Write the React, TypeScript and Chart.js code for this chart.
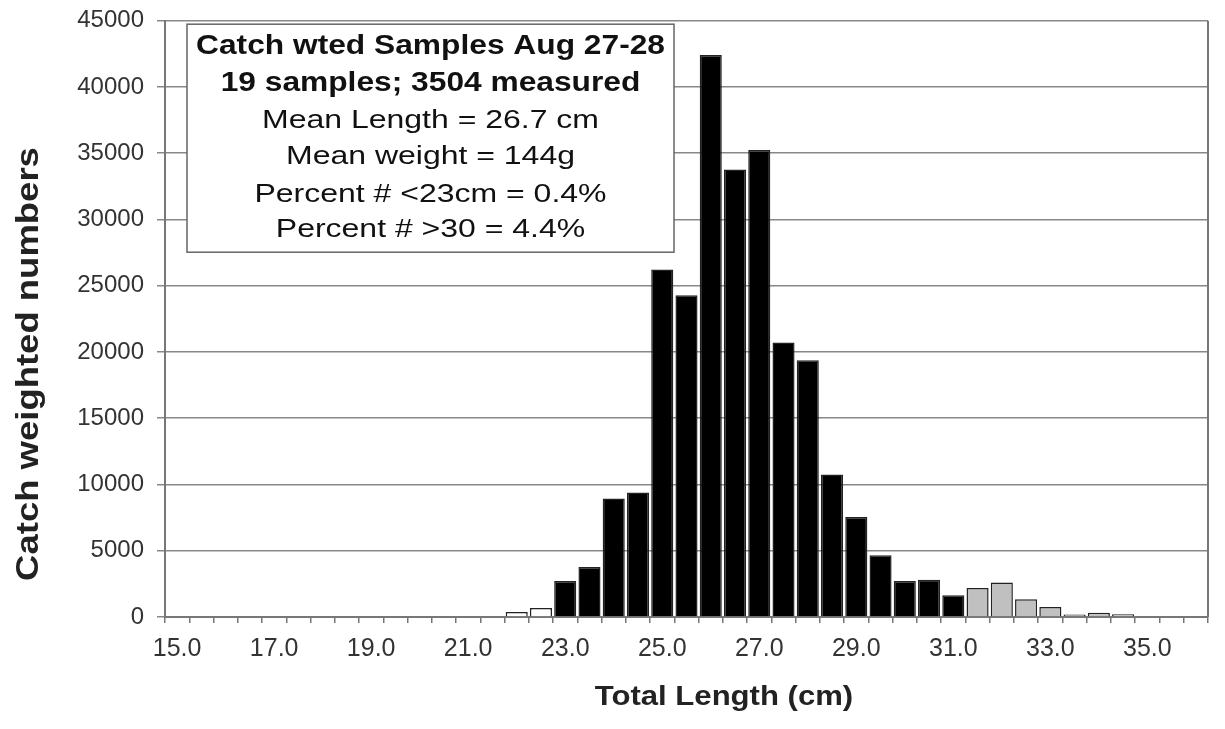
import React, { useEffect, useRef } from 'react';
import { Chart, registerables } from 'chart.js';

Chart.register(...registerables);

const lengthLabels = [
  '15.0', '15.5', '16.0', '16.5', '17.0', '17.5', '18.0', '18.5', '19.0', '19.5',
  '20.0', '20.5', '21.0', '21.5', '22.0', '22.5', '23.0', '23.5', '24.0', '24.5',
  '25.0', '25.5', '26.0', '26.5', '27.0', '27.5', '28.0', '28.5', '29.0', '29.5',
  '30.0', '30.5', '31.0', '31.5', '32.0', '32.5', '33.0', '33.5', '34.0', '34.5',
  '35.0', '35.5', '36.0',
];

const catchNumbers = [
  0, 0, 0, 0, 0, 0, 0, 0, 0, 0,
  0, 0, 0, 0, 380, 680, 2720, 3780, 8940, 9390,
  26230, 24290, 42410, 33780, 35240, 20720, 19380, 10750, 7550, 4660,
  2720, 2820, 1640, 2190, 2600, 1340, 755, 180, 330, 200,
  0, 0, 0,
];

const shownXTicks = ['15.0', '17.0', '19.0', '21.0', '23.0', '25.0', '27.0', '29.0', '31.0', '33.0', '35.0'];

const yTickValues = [0, 5000, 10000, 15000, 20000, 25000, 30000, 35000, 40000, 45000];

const boxTitleLines = ['Catch wted Samples Aug 27-28', '19 samples; 3504 measured'];
const boxStatLines = [
  'Mean Length = 26.7 cm',
  'Mean weight = 144g',
  'Percent # <23cm = 0.4%',
  'Percent # >30 = 4.4%',
];

const xTitle = 'Total Length (cm)';
const yTitle = 'Catch weighted numbers';

const FONT = '"Liberation Sans", Arial, sans-serif';

function barColor(label: string): string {
  const v = parseFloat(label);
  if (v < 23) return '#ffffff';
  if (v > 31) return '#c0c0c0';
  return '#000000';
}

const overlayPlugin = {
  id: 'overlay',
  afterDraw(chart: any) {
    const ctx = chart.ctx as CanvasRenderingContext2D;
    const { left, right, top, bottom } = chart.chartArea;
    ctx.save();
    // right border of plot area
    ctx.strokeStyle = '#777';
    ctx.lineWidth = 2;
    ctx.beginPath();
    ctx.moveTo(right, top);
    ctx.lineTo(right, bottom);
    ctx.stroke();

    // annotation box
    const bx = left + 22;
    const by = top + 3.5;
    const bw = 487;
    const bh = 228;
    ctx.fillStyle = '#ffffff';
    ctx.fillRect(bx, by, bw, bh);
    ctx.strokeStyle = '#666';
    ctx.lineWidth = 1.5;
    ctx.strokeRect(bx, by, bw, bh);

    const cx = bx + bw / 2;
    ctx.fillStyle = '#111';
    ctx.textAlign = 'center';
    ctx.textBaseline = 'middle';
    const lineOffsets = [26, 62.6, 100.3, 136, 174.3, 209.3];
    const drawStretched = (text: string, x: number, y: number, font: string, sx: number) => {
      ctx.save();
      ctx.translate(x, y);
      ctx.scale(sx, 1);
      ctx.font = font;
      ctx.fillText(text, 0, 0);
      ctx.restore();
    };
    boxTitleLines.forEach((t, i) => {
      drawStretched(t, cx, top + lineOffsets[i], `bold 27px ${FONT}`, 1.175);
    });
    boxStatLines.forEach((t, i) => {
      drawStretched(t, cx, top + lineOffsets[i + 2], `26px ${FONT}`, 1.23);
    });

    // axis titles
    ctx.fillStyle = '#222';
    drawStretched(xTitle, 724, 697, `bold 28px ${FONT}`, 1.11);
    ctx.save();
    ctx.translate(29, 364);
    ctx.rotate(-Math.PI / 2);
    ctx.scale(1.14, 1);
    ctx.font = `bold 32px ${FONT}`;
    ctx.textAlign = 'center';
    ctx.textBaseline = 'middle';
    ctx.fillText(yTitle, 0, 0);
    ctx.restore();

    ctx.restore();
  },
};

export default function App() {
  const ref = useRef<HTMLCanvasElement>(null);
  useEffect(() => {
    document.body.style.margin = '0';
    if (!ref.current) return;
    const chart = new Chart(ref.current, {
      type: 'bar',
      data: {
        labels: lengthLabels,
        datasets: [
          {
            data: catchNumbers,
            backgroundColor: lengthLabels.map(barColor),
            borderColor: '#222',
            borderWidth: 1.5,
            barPercentage: 0.91,
            categoryPercentage: 1.0,
          },
        ],
      },
      options: {
        responsive: true,
        maintainAspectRatio: false,
        animation: false,
        layout: { padding: { top: 20.7, right: 17, left: 0, bottom: 0 } },
        plugins: { legend: { display: false }, tooltip: { enabled: false } },
        scales: {
          x: {
            type: 'category',
            offset: true,
            grid: {
              offset: true,
              drawOnChartArea: false,
              drawTicks: true,
              tickLength: 6,
              color: '#777',
              lineWidth: 1.5,
            },
            border: { color: '#777', width: 2 },
            ticks: {
              autoSkip: false,
              maxRotation: 0,
              minRotation: 0,
              padding: 11,
              color: '#333',
              font: { family: FONT, size: 25 },
              callback: (_v: any, i: number) =>
                shownXTicks.includes(lengthLabels[i]) ? lengthLabels[i] : '',
            },
            afterFit: (s: any) => {
              s.height = 112;
              s.paddingLeft = 0;
              s.paddingRight = 0;
            },
          },
          y: {
            min: yTickValues[0],
            max: yTickValues[yTickValues.length - 1],
            ticks: {
              stepSize: yTickValues[1] - yTickValues[0],
              padding: 13,
              color: '#333',
              font: { family: FONT, size: 24 },
              callback: (v: any) => String(v),
            },
            grid: { color: '#888', lineWidth: 1.5, tickLength: 8 },
            border: { color: '#777', width: 2 },
            afterFit: (s: any) => {
              s.width = 165;
              s.paddingTop = 0;
              s.paddingBottom = 0;
            },
          },
        },
      },
      plugins: [overlayPlugin],
    });
    return () => chart.destroy();
  }, []);
  return (
    <div style={{ width: 1225, height: 729, position: 'relative' }}>
      <canvas ref={ref} />
    </div>
  );
}
